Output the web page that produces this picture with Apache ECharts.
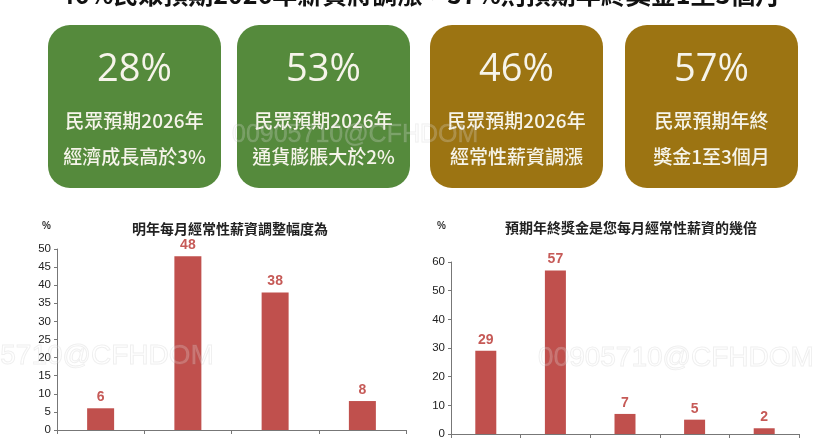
<!DOCTYPE html>
<html><head><meta charset="utf-8">
<script src="https://cdn.jsdelivr.net/npm/echarts@6/dist/echarts.min.js"></script>
<style>html,body{margin:0;padding:0;background:#fff}#c{width:840px;height:440px}</style>
</head><body><div id="c"></div>
<script>
var mainTitle = '46%民眾預期2026年薪資將調漲，57%則預期年終獎金1至3個月';
var boxValues = ['28%', '53%', '46%', '57%'];
var boxLine1 = ['民眾預期2026年', '民眾預期2026年', '民眾預期2026年', '民眾預期年終'];
var boxLine2 = ['經濟成長高於3%', '通貨膨脹大於2%', '經常性薪資調漲', '獎金1至3個月'];
var boxColors = ['#558a3c', '#558a3c', '#9c7412', '#9c7412'];

var leftTitle = '明年每月經常性薪資調整幅度為';
var leftCats = ['A', 'B', 'C', 'D'];
var leftVals = [6, 48, 38, 8];

var rightTitle = '預期年終獎金是您每月經常性薪資的幾倍';
var rightCats = ['A', 'B', 'C', 'D', 'E'];
var rightVals = [29, 57, 7, 5, 2];

var CJK = '"Noto Sans CJK TC", "Noto Sans", sans-serif';
var boxX = [48, 237, 430, 625];
var boxW = 173;
var graphics = [];
graphics.push({type:'text', left:'center', top:-18, style:{text:mainTitle, font:'bold 25px ' + CJK, fill:'#111'}});
for (var i = 0; i < 4; i++) {
  graphics.push({type:'rect', shape:{x:boxX[i], y:25, width:boxW, height:163, r:22}, style:{fill:boxColors[i]}});
  graphics.push({type:'text', x:boxX[i] + boxW/2, y:70, style:{text:boxValues[i], font:'500 38px "Open Sans", sans-serif', fill:'#f6f4ea', align:'center', verticalAlign:'middle'}});
  graphics.push({type:'text', x:boxX[i] + boxW/2, y:121, style:{text:boxLine1[i], font:'500 19px ' + CJK, fill:'#f6f4ea', align:'center', verticalAlign:'middle'}});
  graphics.push({type:'text', x:boxX[i] + boxW/2, y:157, style:{text:boxLine2[i], font:'500 19px ' + CJK, fill:'#f6f4ea', align:'center', verticalAlign:'middle'}});
}
graphics.push({type:'text', x:42, y:221, style:{text:'%', font:'bold 10px Arial', fill:'#333'}});
graphics.push({type:'text', x:437, y:221, style:{text:'%', font:'bold 10px Arial', fill:'#333'}});
graphics.push({type:'text', x:230, y:229, style:{text:leftTitle, font:'bold 14px ' + CJK, fill:'#222', align:'center', verticalAlign:'middle'}});
graphics.push({type:'text', x:631, y:228, style:{text:rightTitle, font:'bold 14px ' + CJK, fill:'#222', align:'center', verticalAlign:'middle'}});
// watermarks
var wm = [[232, 135, 25], [-62, 356, 28], [538, 358, 28]];
for (var j = 0; j < wm.length; j++) {
  graphics.push({type:'text', x:wm[j][0], y:wm[j][1], z:100, silent:true, style:{text:'00905710@CFHDOM', font:wm[j][2] + 'px "Liberation Sans", Arial', fill:'rgba(255,255,255,0.2)', stroke:'rgba(160,160,160,0.18)', lineWidth:1, verticalAlign:'middle'}});
}

function axisCommon(cats, gi) {
  return {type:'category', data:cats, gridIndex:gi, boundaryGap:true,
    axisLine:{lineStyle:{color:'#777', width:1}}, axisTick:{show:true, length:4, lineStyle:{color:'#777'}},
    axisLabel:{show:false}};
}
function yCommon(max, iv, gi) {
  return {type:'value', min:0, max:max, interval:iv, gridIndex:gi,
    axisLine:{show:true, lineStyle:{color:'#777'}}, axisTick:{show:true, length:3, lineStyle:{color:'#777'}},
    splitLine:{show:false}, axisLabel:{fontFamily:'Arial', fontSize:11.5, color:'#222', margin:6}};
}
var labelStyle = {show:true, position:'top', distance:4, fontFamily:'Arial', fontWeight:'bold', fontSize:14, color:'#c65a57'};
var option = {
  animation:false,
  backgroundColor:'#fff',
  graphic:graphics,
  grid:[{left:57, right:434, top:249, bottom:10}, {left:451, right:41, top:262, bottom:6}],
  xAxis:[axisCommon(leftCats, 0), axisCommon(rightCats, 1)],
  yAxis:[yCommon(50, 5, 0), yCommon(60, 10, 1)],
  series:[
    {type:'bar', xAxisIndex:0, yAxisIndex:0, data:leftVals, barWidth:27, itemStyle:{color:'#c0504d'}, label:labelStyle},
    {type:'bar', xAxisIndex:1, yAxisIndex:1, data:rightVals, barWidth:21, itemStyle:{color:'#c0504d'}, label:labelStyle}
  ]
};
echarts.init(document.getElementById('c')).setOption(option);
</script></body></html>
